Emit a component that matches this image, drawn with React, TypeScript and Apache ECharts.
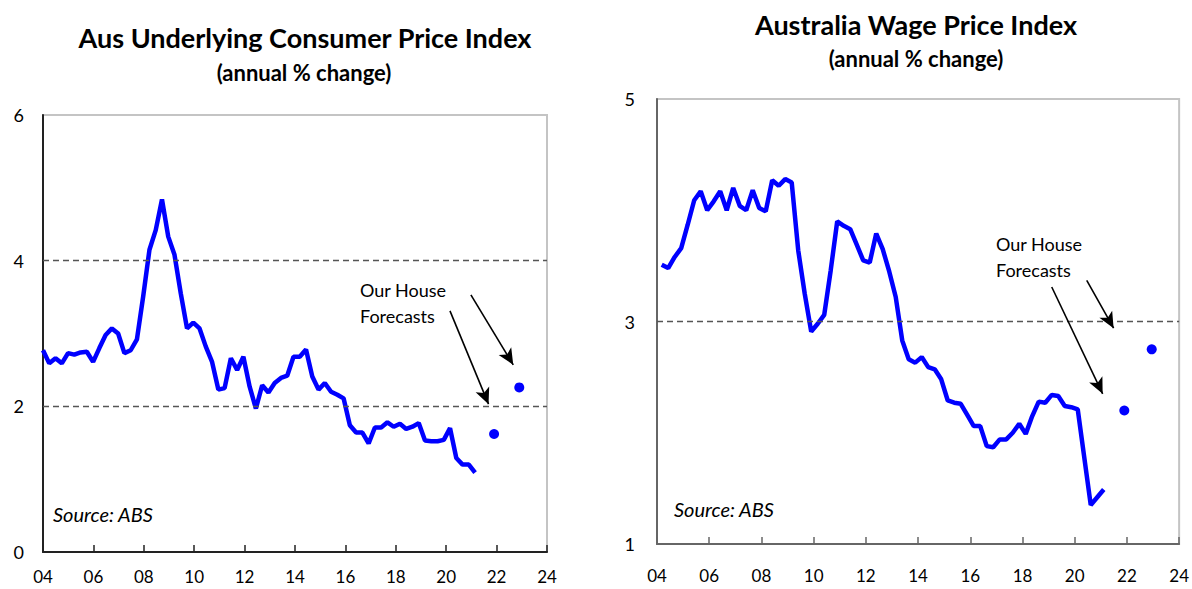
import React, { useEffect, useRef } from "react";
import * as echarts from "echarts";

// Aus underlying CPI, annual % change, quarterly
const cpiStart = 4.0;
const cpiStep = 0.2485;
const cpiValues = [
  2.77, 2.59, 2.66, 2.59, 2.73, 2.71, 2.74, 2.75, 2.61, 2.8,
  2.98, 3.07, 3.0, 2.73, 2.77, 2.92, 3.51, 4.15, 4.42, 4.84,
  4.33, 4.08, 3.55, 3.07, 3.15, 3.07, 2.82, 2.61, 2.23, 2.25,
  2.66, 2.5, 2.68, 2.27, 1.97, 2.29, 2.19, 2.32, 2.39, 2.42,
  2.68, 2.68, 2.78, 2.41, 2.23, 2.32, 2.2, 2.16, 2.11, 1.74,
  1.64, 1.64, 1.49, 1.71, 1.71, 1.78, 1.72, 1.76, 1.69, 1.72,
  1.77, 1.53, 1.52, 1.52, 1.54, 1.7, 1.29, 1.2, 1.2, 1.09,
];
const cpiForecastYears = [21.9, 22.9];
const cpiForecastValues = [1.62, 2.26];

// Australia wage price index, annual % change, quarterly
const wpiStart = 4.18;
const wpiStep = 0.249;
const wpiValues = [
  3.51, 3.48, 3.58, 3.66, 3.87, 4.09, 4.17, 4.0, 4.08, 4.17,
  4.0, 4.2, 4.04, 4.0, 4.18, 4.02, 3.99, 4.27, 4.22, 4.28,
  4.25, 3.64, 3.25, 2.91, 2.98, 3.06, 3.46, 3.9, 3.86, 3.83,
  3.69, 3.55, 3.53, 3.79, 3.65, 3.45, 3.22, 2.83, 2.66, 2.63,
  2.68, 2.59, 2.57, 2.48, 2.29, 2.27, 2.26, 2.16, 2.06, 2.06,
  1.88, 1.87, 1.94, 1.94, 2.0, 2.08, 1.99, 2.15, 2.28, 2.27,
  2.34, 2.33, 2.24, 2.23, 2.21, 1.78, 1.35, 1.42, 1.49,
];
const wpiForecastYears = [21.9, 22.95];
const wpiForecastValues = [2.2, 2.75];

// annotation arrows [fromYear, fromValue, toYear, toValue]
const cpiArrows = [
  [20.98, 3.53, 22.66, 2.57],
  [20.15, 3.31, 21.68, 2.03],
];
const wpiArrows = [
  [20.46, 3.37, 21.49, 2.94],
  [19.12, 3.31, 21.07, 2.35],
];

const cpiRefLines = [2, 4];
const wpiRefLines = [3];

const FONT = "Lato, 'Open Sans', sans-serif";
const BLUE = "#0000ff";

const yearLabel = (v: number) => String(Math.round(v) % 100).padStart(2, "0");

export default function App() {
  const ref = useRef<HTMLDivElement>(null);
  useEffect(() => {
    if (!ref.current) return;
    const chart = echarts.init(ref.current, undefined, { renderer: "svg" });
    const cpiData = cpiValues.map((v, i) => [cpiStart + i * cpiStep, v]);
    const wpiData = wpiValues.map((v, i) => [wpiStart + i * wpiStep, v]);
    const cpiF = cpiForecastValues.map((v, i) => [cpiForecastYears[i], v]);
    const wpiF = wpiForecastValues.map((v, i) => [wpiForecastYears[i], v]);
    const arrowLines = (arr: number[][]) =>
      arr.map((a) => [{ coord: [a[0], a[1]] }, { coord: [a[2], a[3]] }]);

    const xAxisBase = (gridIndex: number, color: string, margin: number) => ({
      type: "value",
      gridIndex,
      min: 4,
      max: 24,
      interval: 2,
      axisLine: { show: true, lineStyle: { color, width: 2 } },
      axisTick: { show: true, inside: true, length: 7, lineStyle: { color, width: 1.5 } },
      axisLabel: {
        formatter: yearLabel,
        color: "#000",
        fontSize: 17,
        fontFamily: FONT,
        margin,
      },
      splitLine: { show: false },
    });

    const textStyle = (size: number, weight: string, style = "normal") => ({
      fontSize: size,
      fontWeight: weight,
      fontStyle: style,
      fontFamily: FONT,
      fill: "#000",
    });

    const option: any = {
      animation: false,
      backgroundColor: "#fff",
      grid: [
        {
          left: 43,
          top: 115,
          width: 504,
          height: 437,
          show: true,
          borderColor: "#c4c4c4",
          borderWidth: 2,
          backgroundColor: "transparent",
        },
        {
          left: 657,
          top: 99,
          width: 525,
          height: 445,
          show: true,
          borderColor: "#c4c4c4",
          borderWidth: 2,
          backgroundColor: "transparent",
        },
      ],
      xAxis: [xAxisBase(0, "#222", 16), xAxisBase(1, "#666", 23)],
      yAxis: [
        {
          type: "value",
          gridIndex: 0,
          min: 0,
          max: 6,
          interval: 2,
          axisLine: { show: true, lineStyle: { color: "#222", width: 2 } },
          axisTick: { show: false },
          splitLine: { show: false },
          axisLabel: { color: "#000", fontSize: 18, fontFamily: FONT, margin: 19 },
        },
        {
          type: "value",
          gridIndex: 1,
          min: 1,
          max: 5,
          interval: 2,
          axisLine: { show: true, lineStyle: { color: "#666", width: 2 } },
          axisTick: { show: false },
          splitLine: { show: false },
          axisLabel: { color: "#000", fontSize: 18, fontFamily: FONT, margin: 22 },
        },
      ],
      series: [
        {
          type: "line",
          xAxisIndex: 0,
          yAxisIndex: 0,
          data: cpiData,
          showSymbol: false,
          lineStyle: { color: BLUE, width: 4.5 },
          markLine: {
            silent: true,
            symbol: "none",
            label: { show: false },
            lineStyle: { color: "#555", type: [6, 4], width: 1.3 },
            data: cpiRefLines.map((y) => ({ yAxis: y })),
          },
        },
        {
          type: "scatter",
          xAxisIndex: 0,
          yAxisIndex: 0,
          data: cpiF,
          symbolSize: 10,
          itemStyle: { color: BLUE, opacity: 1 },
          markLine: {
            silent: true,
            symbol: ["none", "arrow"],
            symbolSize: [11, 16],
            label: { show: false },
            lineStyle: { color: "#000", type: "solid", width: 1.6 },
            data: arrowLines(cpiArrows),
          },
        },
        {
          type: "line",
          xAxisIndex: 1,
          yAxisIndex: 1,
          data: wpiData,
          showSymbol: false,
          lineStyle: { color: BLUE, width: 4.5 },
          markLine: {
            silent: true,
            symbol: "none",
            label: { show: false },
            lineStyle: { color: "#555", type: [6, 4], width: 1.3 },
            data: wpiRefLines.map((y) => ({ yAxis: y })),
          },
        },
        {
          type: "scatter",
          xAxisIndex: 1,
          yAxisIndex: 1,
          data: wpiF,
          symbolSize: 10,
          itemStyle: { color: BLUE, opacity: 1 },
          markLine: {
            silent: true,
            symbol: ["none", "arrow"],
            symbolSize: [11, 16],
            label: { show: false },
            lineStyle: { color: "#000", type: "solid", width: 1.6 },
            data: arrowLines(wpiArrows),
          },
        },
      ],
      graphic: [
        {
          type: "text",
          x: 305,
          y: 37,
          style: { text: "Aus Underlying Consumer Price Index", ...textStyle(27, "bold"), textAlign: "center", textVerticalAlign: "middle" },
        },
        {
          type: "text",
          x: 304,
          y: 72,
          style: { text: "(annual % change)", ...textStyle(22, "bold"), textAlign: "center", textVerticalAlign: "middle" },
        },
        {
          type: "text",
          x: 916,
          y: 24,
          style: { text: "Australia Wage Price Index", ...textStyle(27, "bold"), textAlign: "center", textVerticalAlign: "middle" },
        },
        {
          type: "text",
          x: 916,
          y: 58,
          style: { text: "(annual % change)", ...textStyle(22, "bold"), textAlign: "center", textVerticalAlign: "middle" },
        },
        {
          type: "text",
          x: 360,
          y: 277,
          style: { text: "Our House\nForecasts", ...textStyle(18, "normal"), lineHeight: 26 },
        },
        {
          type: "text",
          x: 996,
          y: 231,
          style: { text: "Our House\nForecasts", ...textStyle(18, "normal"), lineHeight: 26 },
        },
        {
          type: "text",
          x: 53,
          y: 504,
          style: { text: "Source: ABS", ...textStyle(20, "normal", "italic") },
        },
        {
          type: "text",
          x: 674,
          y: 499,
          style: { text: "Source: ABS", ...textStyle(20, "normal", "italic") },
        },
      ],
    };
    chart.setOption(option);
    return () => chart.dispose();
  }, []);
  return (
    <div
      ref={ref}
      style={{ position: "fixed", left: 0, top: 0, width: 1192, height: 589, background: "#fff" }}
    />
  );
}
